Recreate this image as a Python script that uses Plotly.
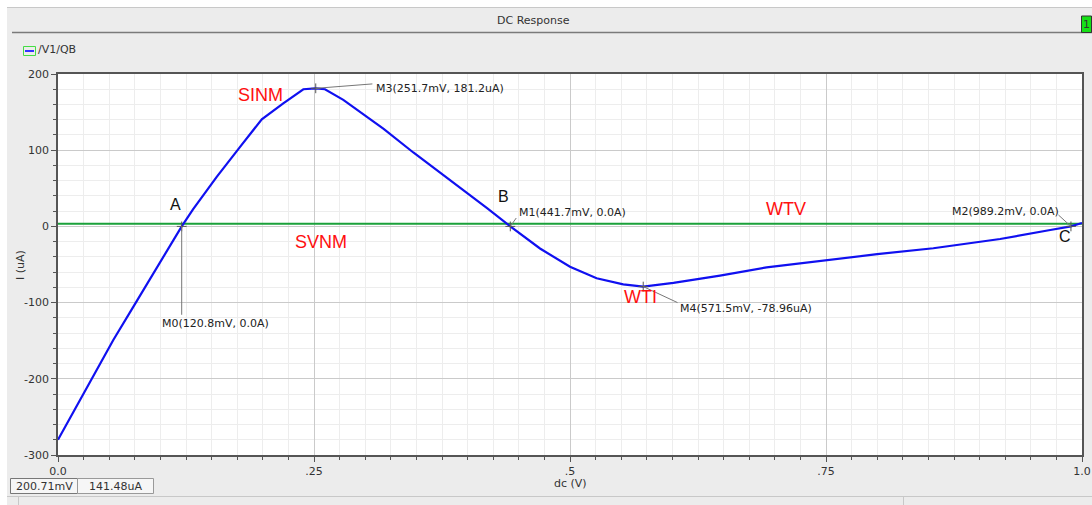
import plotly.graph_objects as go

W, H = 1092, 505
L, R, T, B = 58, 10, 74, 50
PW, PH = W - L - R, H - T - B

# DC sweep of V1: current into QB
v_dc = [0.0, 0.0215, 0.054, 0.076, 0.1208, 0.132, 0.155, 0.178, 0.199, 0.220,
        0.2396, 0.2517, 0.2607, 0.2786, 0.318, 0.347, 0.383, 0.419, 0.4417, 0.4707,
        0.500, 0.526, 0.552, 0.5715, 0.601, 0.624, 0.6465, 0.692, 0.7507, 0.800,
        0.8548, 0.920, 0.969, 0.9892, 1.0]
i_qb = [-280, -228, -149, -100, 0, 22.6, 65, 104.6, 140.6, 161.5,
        180, 181.2, 180, 166, 128, 97, 61, 24, 0, -29,
        -53, -68, -76, -78.96, -74, -69.5, -64.5, -53.7, -44, -36.5,
        -28.7, -16.5, -4.7, 0, 4.5]

# zero-current reference line
ref_v = [0.0, 1.0]
ref_i = [3.5, 3.5]

# markers: name, voltage (V), current (uA)
mk_names = ["M0", "M1", "M2", "M3", "M4"]
mk_v = [0.1208, 0.4417, 0.9892, 0.2517, 0.5715]
mk_i = [0.0, 0.0, 0.0, 181.2, -78.96]
# label anchor (left edge, middle) and leader-line end, in data units
mk_lab_x = [0.0996, 0.4482, 0.8711, 0.3086, 0.6055]
mk_lab_y = [-126.8, 17.6, 20.2, 181.6, -107.1]
mk_lead_x = [0.1208, 0.4475, 0.977, 0.307, 0.605]
mk_lead_y = [-116, 11, 15, 187, -100]

# region labels
reg_text = ["SINM", "SVNM", "WTV", "WTI"]
reg_x = [0.1973, 0.2568, 0.711, 0.5693]
reg_y = [172.4, -20.5, 22.8, -92.6]
pt_text = ["A", "B", "C"]
pt_x = [0.1143, 0.4346, 0.9834]
pt_y = [28.1, 38.6, -13.9]

x_ticks = [0.0, 0.25, 0.5, 0.75, 1.0]
x_ticktext = ["0.0", ".25", ".5", ".75", "1.0"]
y_ticks = [200, 100, 0, -100, -200, -300]
y_ticktext = ["200", "100", "0", "-100", "-200", "-300"]

UI = "DejaVu Sans"


def px(x):
    return (x - L) / PW


def py(y):
    return (H - B - y) / PH


def fmt_label(n, v, i):
    cur = "0.0A" if i == 0 else f"{i:.4g}uA"
    return f"{n}({v * 1000:.1f}mV, {cur})"


def chrome_text(text, x, y, anchor="center", **kw):
    return dict(text=text, xref="paper", yref="paper", x=px(x), y=py(y),
                xanchor=anchor, yanchor="middle", showarrow=False,
                font=dict(family=UI, size=11, color="#333"), **kw)


fig = go.Figure()
fig.add_trace(go.Scatter(x=ref_v, y=ref_i, mode="lines",
                         line=dict(color="#1aa13a", width=2), hoverinfo="skip"))
fig.add_trace(go.Scatter(x=v_dc, y=i_qb, mode="lines", name="/V1/QB",
                         line=dict(color="#1010f0", width=2.2)))
fig.add_trace(go.Scatter(x=mk_v, y=mk_i, mode="markers",
                         marker=dict(symbol="cross-thin", size=7,
                                     line=dict(color="#555", width=1)),
                         hoverinfo="skip"))

shapes = []
annotations = []

# window chrome
shapes += [
    dict(type="rect", xref="paper", yref="paper", x0=px(0), x1=px(7), y0=py(H), y1=py(0),
         fillcolor="white", line_width=0, layer="below"),
    dict(type="rect", xref="paper", yref="paper", x0=px(0), x1=px(W), y0=py(7.5), y1=py(0),
         fillcolor="white", line_width=0, layer="below"),
    dict(type="line", xref="paper", yref="paper", x0=px(7), x1=px(W), y0=py(7.5), y1=py(7.5),
         line=dict(color="#c8c8c8", width=1)),
    dict(type="line", xref="paper", yref="paper", x0=px(12), x1=px(W), y0=py(32.5), y1=py(32.5),
         line=dict(color="#7a7a7a", width=1.5)),
    dict(type="rect", xref="paper", yref="paper", x0=px(1081.5), x1=px(1091.5), y0=py(32.5), y1=py(16),
         fillcolor="#16e016", line=dict(color="#333", width=1)),
    dict(type="line", xref="paper", yref="paper", x0=px(7), x1=px(W), y0=py(496.5), y1=py(496.5),
         line=dict(color="#c8c8c8", width=1)),
    dict(type="line", xref="paper", yref="paper", x0=px(18.5), x1=px(18.5), y0=py(H), y1=py(497),
         line=dict(color="#c8c8c8", width=1)),
    dict(type="line", xref="paper", yref="paper", x0=px(903.5), x1=px(903.5), y0=py(H), y1=py(497),
         line=dict(color="#c8c8c8", width=1)),
    # legend swatch
    dict(type="rect", xref="paper", yref="paper", x0=px(23.5), x1=px(35.5), y0=py(55.5), y1=py(46.5),
         fillcolor="#ececec", line=dict(color="#44dd44", width=1)),
    dict(type="line", xref="paper", yref="paper", x0=px(25), x1=px(34), y0=py(51), y1=py(51),
         line=dict(color="#3333ff", width=2)),
    # cursor readout boxes
    dict(type="rect", xref="paper", yref="paper", x0=px(10.5), x1=px(77.5), y0=py(493.5), y1=py(478.5),
         fillcolor="#f6f6f6", line=dict(color="#777", width=1)),
    dict(type="rect", xref="paper", yref="paper", x0=px(77.5), x1=px(153.5), y0=py(493.5), y1=py(478.5),
         fillcolor="#f6f6f6", line=dict(color="#999", width=1)),
]

annotations += [
    chrome_text("DC Response", 533, 20),
    chrome_text("1", 1086.5, 24.5),
    chrome_text("/V1/QB", 36, 50, anchor="left"),
    chrome_text("200.71mV", 44, 486),
    chrome_text("141.48uA", 115, 486),
    chrome_text("dc (V)", 570, 483),
    chrome_text("I (uA)", 20, 265, textangle=-90),
]

# marker leaders and labels
for n, v, i, lx, ly, ex, ey in zip(mk_names, mk_v, mk_i, mk_lab_x, mk_lab_y, mk_lead_x, mk_lead_y):
    shapes.append(dict(type="line", xref="x", yref="y", x0=v, y0=i, x1=ex, y1=ey,
                       line=dict(color="#777", width=1)))
    annotations.append(dict(text=fmt_label(n, v, i), x=lx, y=ly, xref="x", yref="y",
                            xanchor="left", yanchor="middle", showarrow=False,
                            font=dict(family=UI, size=11, color="#222")))

for t, x, y in zip(reg_text, reg_x, reg_y):
    annotations.append(dict(text=t, x=x, y=y, showarrow=False,
                            font=dict(family="Liberation Sans", size=18, color="#ff1010")))
for t, x, y in zip(pt_text, pt_x, pt_y):
    annotations.append(dict(text=t, x=x, y=y, showarrow=False,
                            font=dict(family="Liberation Sans", size=16, color="#111")))

fig.update_layout(
    width=W, height=H,
    margin=dict(l=L, r=R, t=T, b=B, autoexpand=False),
    paper_bgcolor="#ececec",
    plot_bgcolor="white",
    showlegend=False,
    shapes=shapes,
    annotations=annotations,
    xaxis=dict(range=[0, 1], tickmode="array", tickvals=x_ticks, ticktext=x_ticktext,
               automargin=False,
               showgrid=True, gridcolor="#cacaca", gridwidth=1,
               ticks="outside", ticklen=5, tickcolor="#555",
               minor=dict(dtick=0.025, tick0=0, showgrid=True, gridcolor="#ededed",
                          ticks="outside", ticklen=3, tickcolor="#555"),
               showline=True, linecolor="#555", linewidth=1.5, mirror=True,
               zeroline=False, tickfont=dict(family=UI, size=11, color="#333")),
    yaxis=dict(range=[-300, 200], tickmode="array", tickvals=y_ticks, ticktext=y_ticktext,
               automargin=False,
               showgrid=True, gridcolor="#cacaca", gridwidth=1,
               ticks="outside", ticklen=5, tickcolor="#555",
               minor=dict(dtick=20, tick0=0, showgrid=True, gridcolor="#ededed",
                          ticks="outside", ticklen=3, tickcolor="#555"),
               showline=True, linecolor="#555", linewidth=1.5, mirror=True,
               zeroline=False, tickfont=dict(family=UI, size=11, color="#333")),
)

fig.write_html("out.html")
